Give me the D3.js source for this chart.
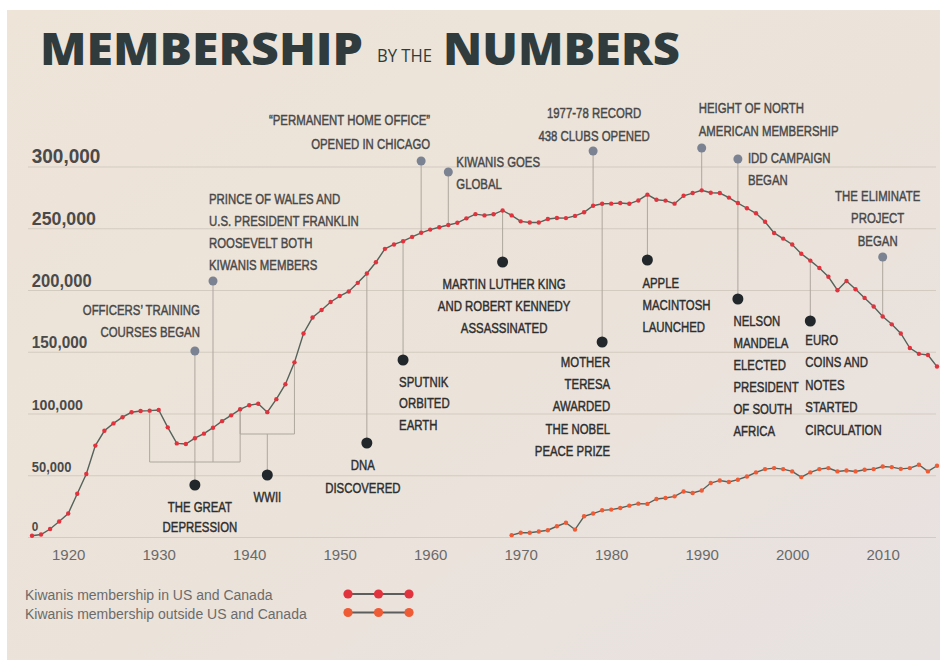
<!DOCTYPE html>
<html lang="en">
<head>
<meta charset="UTF-8">
<title>Membership by the numbers</title>
<script src="https://d3js.org/d3.v7.min.js"></script>
<style>
    html, body { margin: 0; padding: 0; background: #fff; }
    svg { display: block; }
    .note text { font-family: "Liberation Sans", Arial, sans-serif; font-size: 15px; stroke-width: 0.45px; }
</style>
</head>
<body>
<svg id="chart" width="941" height="662"></svg>
<script>
    // membership in thousands, one value per year
    const firstYear = 1916;
    const usCanada = [
        1, 2, 6.5, 12.5, 19, 35, 51, 74, 86, 92,                     // 1916-1925
        97, 101, 102, 102.3, 102.8, 88.8, 75.8, 75.3, 80, 83.7,      // 1926-1935
        88.5, 93.8, 98.5, 103.4, 106.7, 107.9, 101.1, 111.6, 123.7, 141.4, // 1936-1945
        164.8, 177.7, 183.8, 190.3, 195.1, 198.8, 205.8, 213.4, 222.5, 233.3, // 1946-1955
        236.9, 239.5, 243, 246.3, 248.9, 250.8, 252.6, 254.4, 258, 261.4,    // 1956-1965
        260.4, 261.3, 264.4, 260.4, 255.6, 254.7, 254.6, 257.5, 258.3, 258.2, // 1966-1975
        260, 262.9, 268.2, 269.8, 269.9, 270.4, 269.8, 272.5, 277.2, 273.1,  // 1976-1985
        272.4, 269.9, 276.3, 278.5, 280.7, 278.8, 278.5, 274.8, 270.4, 266.2, // 1986-1995
        262.1, 255.3, 246.2, 241.6, 236.9, 229.4, 223.8, 217.8, 210.7, 199.8, // 1996-2005
        207.3, 200.6, 193.6, 186.7, 178.6, 172.2, 164.8, 153, 148.3, 147.4,  // 2006-2015
        138                                                          // 2016
    ];
    const outsideStart = 1969;
    const outside = [
        1.5, 3.4, 3.4, 4.4, 5.5, 8.7, 11.5, 6, 16.8, 19,             // 1969-1978
        21.6, 22.2, 23.5, 25.4, 27, 26.8, 30.8, 31.6, 32.9, 36.9,    // 1979-1988
        35.6, 37.7, 43.7, 45.8, 44.5, 46.4, 49, 52.3, 55, 55.8,      // 1989-1998
        55, 53.1, 48.5, 52.3, 55, 55.8, 53.1, 53.9, 53.1, 54.4,      // 1999-2008
        55, 57.1, 56.6, 55.2, 55.8, 58.5, 53.1, 57.7                 // 2009-2016
    ];
    const yTicks = [0, 50, 100, 150, 200, 250, 300];
    const xTicks = [1920, 1930, 1940, 1950, 1960, 1970, 1980, 1990, 2000, 2010];
    const seriesNames = ["Kiwanis membership in US and Canada", "Kiwanis membership outside US and Canada"];

    const events = [
        { year: 1934, side: "top", text: ["OFFICERS\u2019 TRAINING", "COURSES BEGAN"] },
        { year: 1936, side: "top", text: ["PRINCE OF WALES AND", "U.S. PRESIDENT FRANKLIN", "ROOSEVELT BOTH", "KIWANIS MEMBERS"] },
        { year: 1959, side: "top", text: ["\u201CPERMANENT HOME OFFICE\u201D", "OPENED IN CHICAGO"] },
        { year: 1962, side: "top", text: ["KIWANIS GOES", "GLOBAL"] },
        { year: 1978, side: "top", text: ["1977-78 RECORD", "438 CLUBS OPENED"] },
        { year: 1990, side: "top", text: ["HEIGHT OF NORTH", "AMERICAN MEMBERSHIP"] },
        { year: 1994, side: "top", text: ["IDD CAMPAIGN", "BEGAN"] },
        { year: 2010, side: "top", text: ["THE ELIMINATE", "PROJECT", "BEGAN"] },
        { year: 1968, side: "bottom", text: ["MARTIN LUTHER KING", "AND ROBERT KENNEDY", "ASSASSINATED"] },
        { year: 1984, side: "bottom", text: ["APPLE", "MACINTOSH", "LAUNCHED"] },
        { year: 1979, side: "bottom", text: ["MOTHER", "TERESA", "AWARDED", "THE NOBEL", "PEACE PRIZE"] },
        { year: 1994, side: "bottom", text: ["NELSON", "MANDELA", "ELECTED", "PRESIDENT", "OF SOUTH", "AFRICA"] },
        { year: 2002, side: "bottom", text: ["EURO", "COINS AND", "NOTES", "STARTED", "CIRCULATION"] },
        { year: 1957, side: "bottom", text: ["SPUTNIK", "ORBITED", "EARTH"] },
        { year: 1953, side: "bottom", text: ["DNA", "DISCOVERED"] },
        { year: 1934, side: "bottom", text: ["THE GREAT", "DEPRESSION"] },
        { year: 1942, side: "bottom", text: ["WWII"] }
    ];
    // periods drawn as brackets under the curve
    const periods = [[1929, 1939], [1939, 1945]];

    // where each note sits (same order as events)
    const noteLayout = [
        { dotY: 351, dx: 5, anchor: "end", top: 315, lh: 22, stopAt: 462 },
        { dotY: 281, dx: -4, anchor: "start", top: 204, lh: 22, stopAt: 462 },
        { dotY: 161, dx: 9, anchor: "end", top: 125, lh: 24 },
        { dotY: 172, dx: 8, anchor: "start", top: 167, lh: 22 },
        { dotY: 151, dx: 1, anchor: "middle", top: 118, lh: 23 },
        { dotY: 148, dx: -3, anchor: "start", top: 113, lh: 23 },
        { dotY: 159, dx: 10, anchor: "start", top: 163, lh: 22 },
        { dotY: 257, dx: -5, anchor: "middle", top: 201, lh: 22.5 },
        { dotY: 262, dx: 1.5, anchor: "middle", top: 289, lh: 22 },
        { dotY: 260, dx: -5, anchor: "start", top: 288, lh: 22 },
        { dotY: 342, dx: 8, anchor: "end", top: 367, lh: 22.2 },
        { dotY: 299, dx: -4.5, anchor: "start", top: 326, lh: 22 },
        { dotY: 321, dx: -5, anchor: "start", top: 345, lh: 22.5 },
        { dotY: 360, dx: -4, anchor: "start", top: 387, lh: 21.5 },
        { dotY: 443, dx: -4, anchor: "middle", top: 470, lh: 23 },
        { dotY: 485, dx: 5, anchor: "middle", top: 512, lh: 20, startAt: 462 },
        { dotY: 475, dx: 0, anchor: "middle", top: 502, lh: 22, startAt: 434 }
    ];
    const periodBottoms = [462, 434];

    const W = 941, H = 662;
    const svg = d3.select("#chart");

    const x = d3.scaleLinear().domain([1916, 2016]).range([32, 937]);
    const y = d3.scaleLinear().domain([0, 300]).range([537, 166.5]);

    const usData = usCanada.map((v, i) => ({ year: firstYear + i, value: v }));
    const outData = outside.map((v, i) => ({ year: outsideStart + i, value: v }));
    const valueAt = yr => usData.find(d => d.year === yr).value;

    // paper
    const defs = svg.append("defs");
    const paper = defs.append("linearGradient").attr("id", "paper")
        .attr("x1", "0%").attr("y1", "0%").attr("x2", "100%").attr("y2", "100%");
    paper.append("stop").attr("offset", "0%").attr("stop-color", "#eee4d8");
    paper.append("stop").attr("offset", "55%").attr("stop-color", "#ebe3da");
    paper.append("stop").attr("offset", "100%").attr("stop-color", "#e7e1e1");
    svg.append("rect").attr("width", W).attr("height", H).attr("fill", "#fff");
    svg.append("rect").attr("x", 7).attr("y", 10).attr("width", 933).attr("height", 650)
        .attr("fill", "url(#paper)");

    // title
    const title = svg.append("g").attr("fill", "#2f3b3d")
        .style("font-family", "'Open Sans', 'DejaVu Sans', sans-serif");
    title.append("text").attr("x", 40).attr("y", 65)
        .attr("textLength", 323).attr("lengthAdjust", "spacingAndGlyphs")
        .style("font-size", "45px").style("font-weight", 800).text("MEMBERSHIP");
    title.append("text").attr("x", 377).attr("y", 62)
        .attr("textLength", 55).attr("lengthAdjust", "spacingAndGlyphs")
        .style("font-size", "19px").style("font-weight", 400).text("BY THE");
    title.append("text").attr("x", 443).attr("y", 65)
        .attr("textLength", 237).attr("lengthAdjust", "spacingAndGlyphs")
        .style("font-size", "45px").style("font-weight", 800).text("NUMBERS");

    // gridlines and y labels
    const gy = svg.append("g").attr("transform", "translate(28,0)")
        .call(d3.axisLeft(y).tickValues(yTicks).tickSize(-908)
            .tickFormat(d => d3.format(",")(d * 1000)));
    gy.select(".domain").remove();
    gy.selectAll(".tick line").attr("stroke", "#d3cbc0");
    gy.selectAll(".tick text")
        .attr("x", 4).attr("y", d => d === 0 ? -7 : -4).attr("dy", null)
        .attr("text-anchor", "start")
        .attr("fill", "#4a4a4a")
        .attr("transform", "scale(0.94,1)")
        .style("font-family", "'Liberation Sans', Arial, sans-serif")
        .style("font-weight", "bold")
        .style("font-size", d => (12.5 + d / 300 * 7.7) + "px");

    // x labels
    const gx = svg.append("g").attr("transform", "translate(0,546)")
        .call(d3.axisBottom(x).tickValues(xTicks).tickSize(0).tickFormat(d3.format("d")));
    gx.select(".domain").remove();
    gx.selectAll(".tick text")
        .attr("fill", "#6a6a6a")
        .style("font-family", "'Liberation Sans', Arial, sans-serif")
        .style("font-size", "15px");

    // connectors and brackets
    const guides = svg.append("g").attr("stroke", "#aea79e").attr("stroke-width", 1).attr("fill", "none");
    periods.forEach((p, i) => {
        const b = periodBottoms[i];
        guides.append("path").attr("d",
            `M${x(p[0])},${y(valueAt(p[0]))}V${b}H${x(p[1])}V${y(valueAt(p[1]))}`);
    });
    events.forEach((e, i) => {
        const l = noteLayout[i];
        const cx = x(e.year);
        let y1, y2;
        if (e.side === "top") {
            y1 = l.dotY; y2 = l.stopAt !== undefined ? l.stopAt : y(valueAt(e.year));
        } else {
            y1 = l.startAt !== undefined ? l.startAt : y(valueAt(e.year)); y2 = l.dotY;
        }
        guides.append("line").attr("x1", cx).attr("x2", cx).attr("y1", y1).attr("y2", y2);
    });

    // series
    const line = d3.line().x(d => x(d.year)).y(d => y(d.value));
    const seriesColors = ["#e0333e", "#ee5b35"];
    [usData, outData].forEach((data, k) => {
        svg.append("path").datum(data)
            .attr("d", line)
            .attr("fill", "none")
            .attr("stroke", "#56625a")
            .attr("stroke-width", 1.4);
        svg.append("g").selectAll("circle").data(data).join("circle")
            .attr("cx", d => x(d.year))
            .attr("cy", d => y(d.value))
            .attr("r", 2.2)
            .attr("fill", seriesColors[k]);
    });

    // event dots and notes
    const notes = svg.append("g").attr("class", "note");
    events.forEach((e, i) => {
        const l = noteLayout[i];
        const cx = x(e.year);
        const ink = e.side === "top" ? "#484848" : "#2e2e2e";
        notes.append("circle")
            .attr("cx", cx).attr("cy", l.dotY)
            .attr("r", e.side === "top" ? 4.5 : 5.5)
            .attr("fill", e.side === "top" ? "#7b8392" : "#22272b");
        const g = notes.append("g")
            .attr("transform", `translate(${cx + l.dx},0) scale(0.76,1)`)
            .attr("fill", ink).attr("stroke", ink)
            .attr("text-anchor", l.anchor);
        e.text.forEach((t, j) => {
            g.append("text").attr("x", 0).attr("y", l.top + j * l.lh).text(t);
        });
    });

    // legend
    const legend = svg.append("g")
        .style("font-family", "'Liberation Sans', Arial, sans-serif")
        .style("font-size", "14px");
    seriesNames.forEach((name, k) => {
        const ly = 594 + k * 18.5;
        legend.append("text").attr("x", 25).attr("y", ly + 6).attr("fill", "#6b6b6b").text(name);
        legend.append("line").attr("x1", 348).attr("x2", 409).attr("y1", ly).attr("y2", ly)
            .attr("stroke", "#5d5d5d").attr("stroke-width", 2);
        [348, 378.5, 409].forEach(cx => {
            legend.append("circle").attr("cx", cx).attr("cy", ly).attr("r", 4.6)
                .attr("fill", seriesColors[k]);
        });
    });
</script>
</body>
</html>
